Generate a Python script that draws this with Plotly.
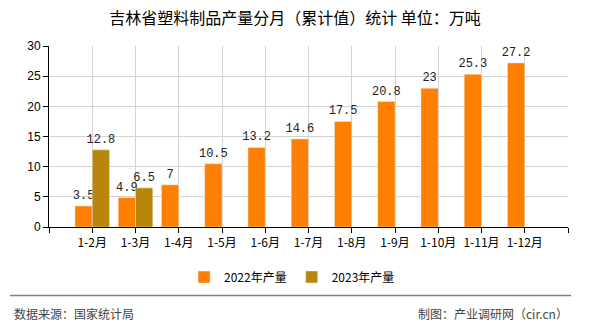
import plotly.graph_objects as go

categories = ["1-2月", "1-3月", "1-4月", "1-5月", "1-6月", "1-7月", "1-8月", "1-9月", "1-10月", "1-11月", "1-12月"]
values_2022 = [3.5, 4.9, 7, 10.5, 13.2, 14.6, 17.5, 20.8, 23, 25.3, 27.2]
values_2023 = [12.8, 6.5, None, None, None, None, None, None, None, None, None]
y_ticks = [0, 5, 10, 15, 20, 25, 30]

xpos = list(range(len(categories)))
label_font = dict(family="Liberation Mono, DejaVu Sans Mono, monospace", size=12, color="#222")

fig = go.Figure()
fig.add_trace(go.Bar(
    x=xpos, y=values_2022, name="2022年产量", marker_color="#FF8000",
    text=[str(v) for v in values_2022], textposition="outside", textfont=label_font,
    constraintext="none", cliponaxis=False,
))
fig.add_trace(go.Bar(
    x=xpos, y=values_2023, name="2023年产量", marker_color="#B8860B",
    text=[("" if v is None else str(v)) for v in values_2023], textposition="outside", textfont=label_font,
    constraintext="none", cliponaxis=False,
))

tickvals = [-1] + xpos + [len(categories)]
ticktext = [""] + categories + [""]

fig.update_layout(
    width=590, height=330,
    margin=dict(l=49, r=22, t=46, b=101),
    paper_bgcolor="white", plot_bgcolor="white",
    barmode="group", bargap=0.2, bargroupgap=0,
    font=dict(family="Noto Sans CJK SC, sans-serif", size=12, color="#000"),
    title=dict(text="吉林省塑料制品产量分月（累计值）统计 单位：万吨", x=0.5, xref="container", xanchor="center",
               y=1 - 18 / 330, yref="container", yanchor="middle",
               font=dict(family="Noto Sans CJK SC, sans-serif", size=16, color="#000")),
    xaxis=dict(range=[-1, len(categories)], tickmode="array", tickvals=tickvals, ticktext=ticktext,
               showgrid=True, gridcolor="#d3d3d3", gridwidth=1, zeroline=False,
               showline=True, linecolor="#000", linewidth=1,
               ticks="outside", ticklen=5, tickcolor="#000",
               tickfont=dict(family="Noto Sans CJK SC, sans-serif", size=12, color="#000")),
    yaxis=dict(range=[0, 30], tickmode="array", tickvals=y_ticks,
               showgrid=True, gridcolor="#d3d3d3", gridwidth=1, zeroline=False,
               showline=True, linecolor="#000", linewidth=1,
               ticks="outside", ticklen=5, tickcolor="#000",
               tickfont=dict(family="Liberation Sans, Arial, sans-serif", size=12, color="#000")),
    legend=dict(orientation="h", xref="container", yref="container", x=0.495, y=1 - 277 / 330,
                xanchor="center", yanchor="middle", font=dict(size=12, color="#000"),
                itemwidth=30, traceorder="normal"),
    shapes=[dict(type="line", xref="paper", yref="paper",
                 x0=(10 - 49) / 519, x1=(571 - 49) / 519,
                 y0=(229 - 298) / 183, y1=(229 - 298) / 183,
                 line=dict(color="#808080", width=1.5))],
    annotations=[
        dict(text="数据来源：国家统计局", xref="paper", yref="paper", x=(12 - 49) / 519, y=(229 - 316) / 183,
             xanchor="left", yanchor="middle", showarrow=False,
             font=dict(family="Noto Sans CJK SC, sans-serif", size=12, color="#444")),
        dict(text="制图：产业调研网（cir.cn）", xref="paper", yref="paper", x=(570 - 49) / 519, y=(229 - 316) / 183,
             xanchor="right", yanchor="middle", showarrow=False,
             font=dict(family="Noto Sans CJK SC, sans-serif", size=12, color="#444")),
    ],
)

fig.write_html("out.html")
